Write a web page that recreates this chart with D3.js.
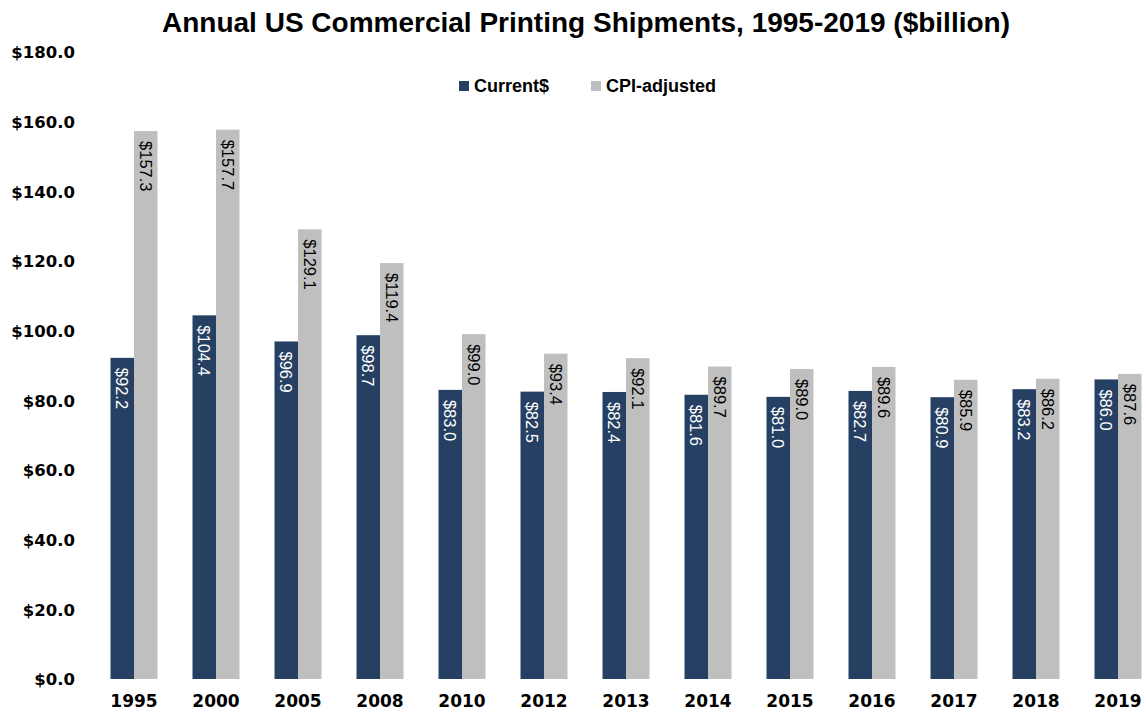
<!DOCTYPE html>
<html>
<head>
<meta charset="utf-8">
<script src="https://cdn.jsdelivr.net/npm/d3@7"></script>
<style>
  html, body { margin: 0; padding: 0; background: #fff; }
  svg { display: block; }
</style>
</head>
<body>
<svg id="chart" width="1146" height="712"></svg>
<script>
const years = ["1995","2000","2005","2008","2010","2012","2013","2014","2015","2016","2017","2018","2019"];
const current = [92.2,104.4,96.9,98.7,83.0,82.5,82.4,81.6,81.0,82.7,80.9,83.2,86.0];
const cpiAdjusted = [157.3,157.7,129.1,119.4,99.0,93.4,92.1,89.7,89.0,89.6,85.9,86.2,87.6];
const seriesNames = ["Current$","CPI-adjusted"];
const seriesColors = ["#264063","#bfbfbf"];
const yTicks = [0,20,40,60,80,100,120,140,160,180];

const svg = d3.select("#chart");

const x = d3.scaleBand().domain(years).range([93, 1159]).padding(0);
const groupWidth = 47;
const xs = d3.scaleBand().domain(seriesNames).range([0, groupWidth]);
const y = d3.scaleLinear().domain([0, 180]).range([679, 52]);

const sansFont = "'Liberation Sans', Arial, sans-serif";
const axisFont = "'DejaVu Sans', sans-serif";

// title
svg.append("text")
  .attr("x", 586).attr("y", 32)
  .attr("text-anchor", "middle")
  .attr("font-family", sansFont)
  .attr("font-weight", "bold")
  .attr("font-size", 28)
  .attr("fill", "#000")
  .text("Annual US Commercial Printing Shipments, 1995-2019 ($billion)");

// y axis (labels only)
const yAxis = d3.axisLeft(y).tickValues(yTicks).tickSize(0).tickPadding(0)
  .tickFormat(d => "$" + d3.format(".1f")(d));
const gy = svg.append("g").attr("transform", "translate(75,0)").call(yAxis);
gy.select(".domain").remove();
gy.selectAll("text")
  .attr("font-family", axisFont).attr("font-weight", "bold")
  .attr("font-size", 16.5).attr("fill", "#000").attr("dy", "0.35em");

// x axis (labels only)
const xAxis = d3.axisBottom(x).tickSize(0).tickPadding(0);
const gx = svg.append("g").attr("transform", "translate(0,695)").call(xAxis);
gx.select(".domain").remove();
gx.selectAll("text")
  .attr("font-family", axisFont).attr("font-weight", "bold")
  .attr("font-size", 17).attr("fill", "#000").attr("dy", "0.7em");

// bars
const data = years.map((yr, i) => ({ year: yr, values: [current[i], cpiAdjusted[i]] }));
const groups = svg.append("g").selectAll("g").data(data).join("g")
  .attr("transform", d => `translate(${x(d.year) + x.bandwidth() / 2 - groupWidth / 2},0)`);

groups.selectAll("rect")
  .data(d => d.values.map((v, j) => ({ name: seriesNames[j], value: v, j })))
  .join("rect")
  .attr("x", d => xs(d.name))
  .attr("y", d => y(d.value))
  .attr("width", xs.bandwidth())
  .attr("height", d => y(0) - y(d.value))
  .attr("fill", d => seriesColors[d.j]);

// value labels, rotated, inside top of bar
groups.selectAll("text.val")
  .data(d => d.values.map((v, j) => ({ name: seriesNames[j], value: v, j })))
  .join("text")
  .attr("class", "val")
  .attr("transform", d => `translate(${xs(d.name) + xs.bandwidth() / 2},${y(d.value) + 10}) rotate(90)`)
  .attr("dy", "0.35em")
  .attr("text-anchor", "start")
  .attr("font-family", sansFont)
  .attr("font-size", 16.5)
  .attr("fill", d => d.j === 0 ? "#fff" : "#000")
  .text(d => "$" + d3.format(".1f")(d.value));

// legend
const legendItems = [{ name: seriesNames[0], x: 459 }, { name: seriesNames[1], x: 591 }];
const lg = svg.append("g").selectAll("g").data(legendItems).join("g")
  .attr("transform", d => `translate(${d.x},81)`);
lg.append("rect").attr("width", 10).attr("height", 10)
  .attr("fill", (d, i) => seriesColors[i]);
lg.append("text").attr("x", 15).attr("y", 5).attr("dy", "0.35em")
  .attr("font-family", sansFont)
  .attr("font-weight", "bold").attr("font-size", 18).attr("fill", "#000")
  .text(d => d.name);
</script>
</body>
</html>
